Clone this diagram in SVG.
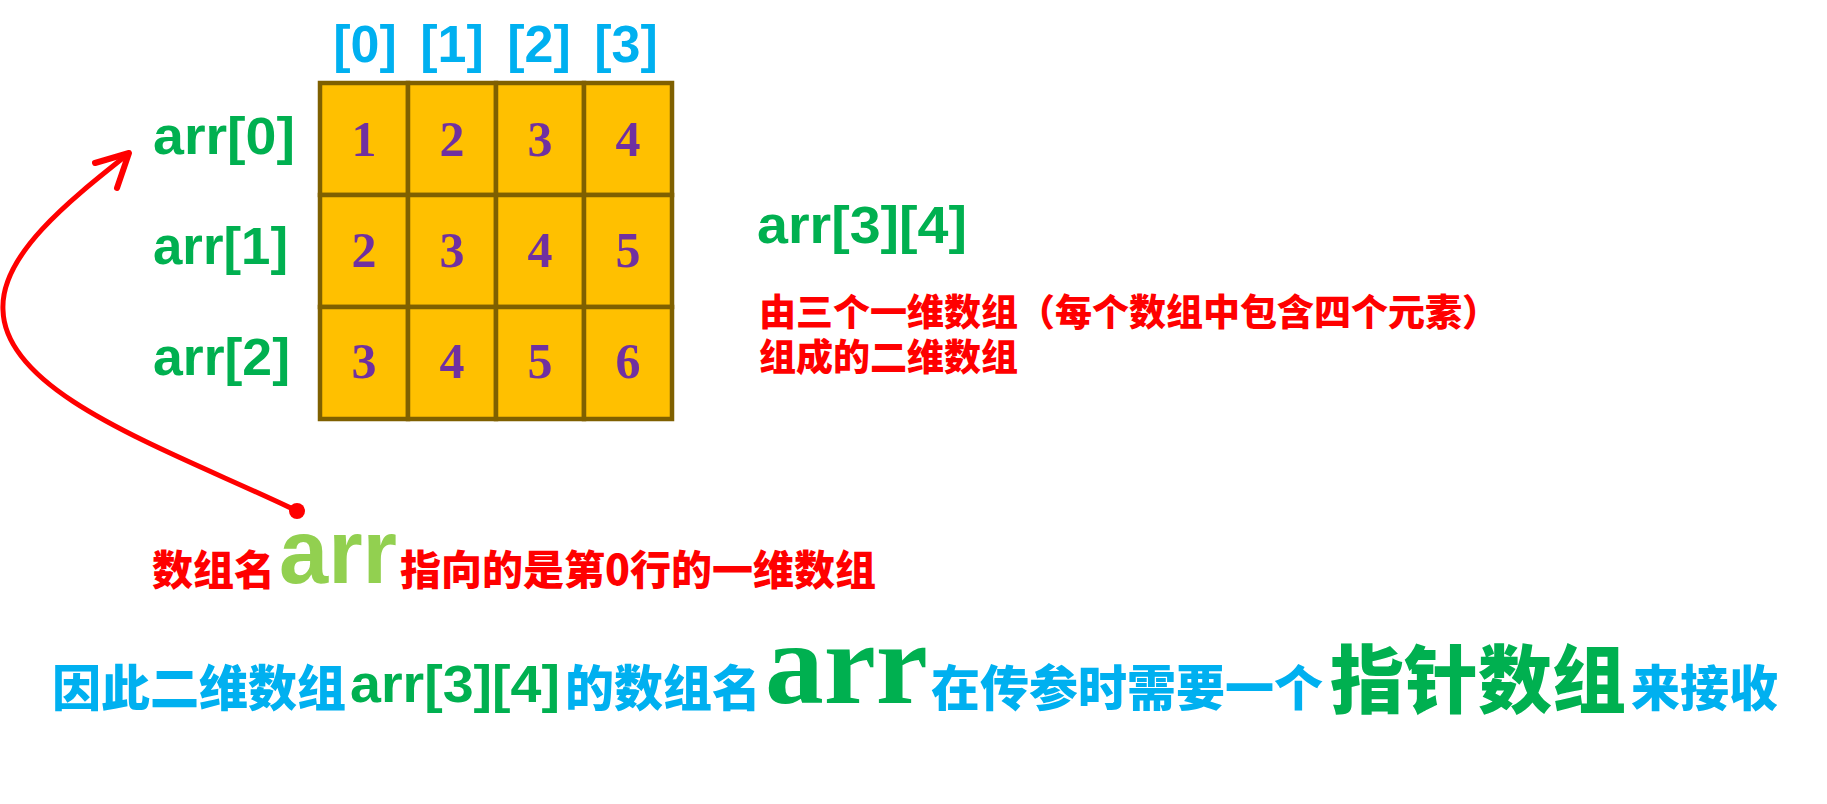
<svg xmlns="http://www.w3.org/2000/svg" width="1827" height="804" viewBox="0 0 1827 804">
<style>
.bg{fill:#ffffff}
.cell{fill:#FFC000;stroke:#7F6000;stroke-width:4.5}
.num{font-family:"Liberation Serif","DejaVu Serif",serif;font-weight:bold;font-size:50px;fill:#7030A0;text-anchor:middle}
.hdr{font-family:"Liberation Sans","DejaVu Sans",sans-serif;font-weight:bold;font-size:52px;fill:#00B0F0;text-anchor:middle}
.lbl{font-family:"Liberation Sans","DejaVu Sans",sans-serif;font-weight:bold;font-size:51px;fill:#00B050}
.cjk{font-family:"Noto Sans CJK SC","Noto Sans",sans-serif;font-weight:900}
.red{fill:#FF0000}
.cyan{fill:#00B0F0}
.green{fill:#00B050}
.conn{fill:none;stroke:#FF0000;stroke-width:5;stroke-linecap:round;stroke-linejoin:round}
.head{fill:none;stroke:#FF0000;stroke-width:6;stroke-linecap:round;stroke-linejoin:round}
</style>
<rect class="bg" x="0" y="0" width="1827" height="804"/>

<g id="col-headers">
<text class="hdr" x="365" y="62">[0]</text>
<text class="hdr" x="452" y="62">[1]</text>
<text class="hdr" x="539" y="62">[2]</text>
<text class="hdr" x="626" y="62">[3]</text>
</g>

<g id="row-labels">
<text class="lbl" x="153" y="154" textLength="142" lengthAdjust="spacingAndGlyphs">arr[0]</text>
<text class="lbl" x="153" y="264" textLength="135" lengthAdjust="spacingAndGlyphs">arr[1]</text>
<text class="lbl" x="153" y="375" textLength="137" lengthAdjust="spacingAndGlyphs">arr[2]</text>
</g>

<g id="grid">
<g id="c00"><rect class="cell" x="320" y="83" width="88" height="112"/><text class="num" x="364" y="156">1</text></g>
<g id="c01"><rect class="cell" x="408" y="83" width="88" height="112"/><text class="num" x="452" y="156">2</text></g>
<g id="c02"><rect class="cell" x="496" y="83" width="88" height="112"/><text class="num" x="540" y="156">3</text></g>
<g id="c03"><rect class="cell" x="584" y="83" width="88" height="112"/><text class="num" x="628" y="156">4</text></g>
<g id="c10"><rect class="cell" x="320" y="195" width="88" height="112"/><text class="num" x="364" y="267">2</text></g>
<g id="c11"><rect class="cell" x="408" y="195" width="88" height="112"/><text class="num" x="452" y="267">3</text></g>
<g id="c12"><rect class="cell" x="496" y="195" width="88" height="112"/><text class="num" x="540" y="267">4</text></g>
<g id="c13"><rect class="cell" x="584" y="195" width="88" height="112"/><text class="num" x="628" y="267">5</text></g>
<g id="c20"><rect class="cell" x="320" y="307" width="88" height="112"/><text class="num" x="364" y="378">3</text></g>
<g id="c21"><rect class="cell" x="408" y="307" width="88" height="112"/><text class="num" x="452" y="378">4</text></g>
<g id="c22"><rect class="cell" x="496" y="307" width="88" height="112"/><text class="num" x="540" y="378">5</text></g>
<g id="c23"><rect class="cell" x="584" y="307" width="88" height="112"/><text class="num" x="628" y="378">6</text></g>
</g>

<g id="decl">
<text class="lbl" x="757" y="243" font-size="52" textLength="210" lengthAdjust="spacingAndGlyphs">arr[3][4]</text>
</g>

<g id="desc">
<text class="cjk red" x="759" y="326" font-size="37">由三个一维数组（每个数组中包含四个元素）</text>
<text class="cjk red" x="759" y="371" font-size="37">组成的二维数组</text>
</g>

<g id="note">
<text class="cjk red" x="152" y="585" font-size="41">数组名</text>
<text x="279" y="583" font-family="Liberation Sans, DejaVu Sans, sans-serif" font-weight="bold" font-size="91" fill="#92D050" textLength="118" lengthAdjust="spacingAndGlyphs">arr</text>
<text class="cjk red" x="400" y="585" font-size="41">指向的是第0行的一维数组</text>
</g>

<g id="conclusion">
<text class="cjk cyan" x="52" y="706" font-size="49">因此二维数组</text>
<text class="lbl" x="350" y="702" font-size="52" textLength="210" lengthAdjust="spacingAndGlyphs">arr[3][4]</text>
<text class="cjk cyan" x="565" y="706" font-size="49">的数组名</text>
<text x="765" y="703" font-family="Liberation Serif, DejaVu Serif, serif" font-weight="bold" font-size="117" fill="#00B050" textLength="163" lengthAdjust="spacingAndGlyphs">arr</text>
<text class="cjk cyan" x="931" y="706" font-size="49">在传参时需要一个</text>
<text class="cjk green" x="1330" y="707" font-size="74">指针数组</text>
<text class="cjk cyan" x="1631" y="706" font-size="49">来接收</text>
</g>

<g id="connectors">
<path class="conn" d="M297,511 C170,450 5,395 3,310 C0,255 70,200 128,154"/>
<path class="head" d="M95,163 L129,153 L117,188"/>
<circle cx="297" cy="511" r="8" fill="#FF0000"/>
</g>
</svg>
